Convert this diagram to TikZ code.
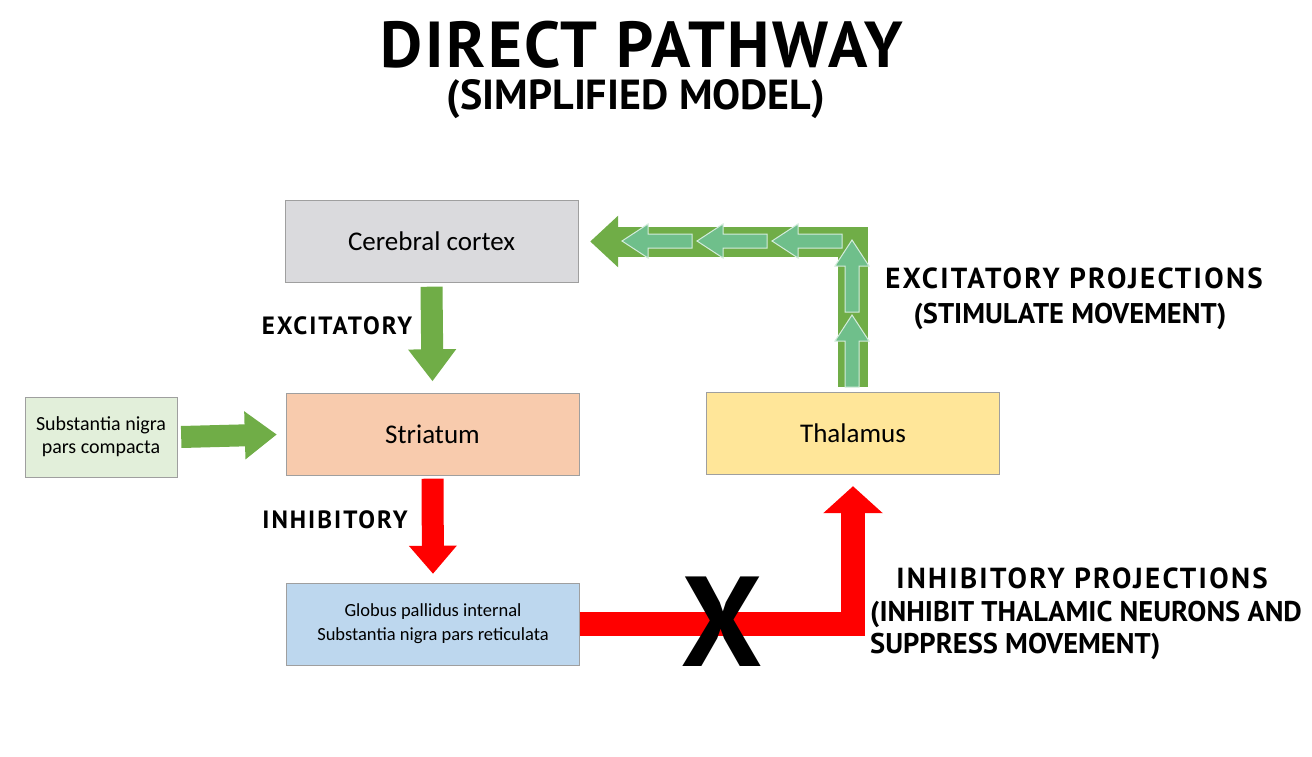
\documentclass[tikz,border=0pt]{standalone}
\usepackage{fontspec}
\setmainfont{Carlito}
\newfontfamily\handfont{PT Sans}
\newfontfamily\handwide{PT Sans}[LetterSpace=8]
\newfontfamily\titlefont{PT Sans}[LetterSpace=4]
\usepackage{tikz}
\usetikzlibrary{arrows.meta, positioning, calc}

\definecolor{cortexgray}{HTML}{DADADD}
\definecolor{striatumpeach}{HTML}{F8CBAD}
\definecolor{thalamusyellow}{HTML}{FFE699}
\definecolor{gpiblue}{HTML}{BDD7EE}
\definecolor{snpcgreen}{HTML}{E2EFDA}
\definecolor{arrowgreen}{HTML}{70AD47}
\definecolor{chevgreen}{HTML}{6FBF8B}
\definecolor{arrowred}{HTML}{FF0000}

\begin{document}
\begin{tikzpicture}[x=1pt, y=-1pt,
  box/.style={draw=gray!75, minimum width=293pt, minimum height=82pt, inner sep=2pt,
    font=\fontsize{27}{30}\selectfont},
  smallbox/.style={box, align=center, font=\fontsize{18.5}{24}\selectfont},
  lbl/.style={font=\handwide\bfseries\fontsize{25}{28}\selectfont},
  biglbl/.style={font=\handwide\bfseries\fontsize{29}{37}\selectfont},
  notelbl/.style={font=\handfont\bfseries\fontsize{28.5}{32}\selectfont},
  gfat/.style={draw=arrowgreen, line width=22pt, -{Triangle[length=32pt, width=46pt]}},
  rfat/.style={draw=arrowred, line width=22pt, -{Triangle[length=28pt, width=46pt]}},
  chev/.style={fill=chevgreen, draw=white!70!chevgreen, line width=1pt}]
\useasboundingbox[fill=white] (0,0) rectangle (1312,757);

% title
\node[font=\titlefont\bfseries\fontsize{65}{65}\selectfont, inner sep=0pt,
  text height=46pt, text depth=0pt] (title) at (642,45) {DIRECT PATHWAY};
\node[font=\handfont\bfseries\fontsize{42}{42}\selectfont, inner sep=0pt,
  text height=26pt, text depth=4pt] (subtitle) at (636,99) {(SIMPLIFIED MODEL)};

% boxes
\node[box, fill=cortexgray] (cortex) at (431.5,241.5) {Cerebral cortex};
\node[box, fill=striatumpeach] (striatum) at (432.5,434.5) {Striatum};
\node[box, fill=thalamusyellow] (thal) at (853,433) {Thalamus};
\node[smallbox, fill=gpiblue] (gpi) at (433,624) {Globus pallidus internal\\Substantia nigra pars reticulata};
\node[smallbox, fill=snpcgreen, minimum width=152pt, minimum height=80pt,
  font=\fontsize{20}{23}\selectfont] (snpc) at (101,437) {Substantia nigra\\pars compacta};

% straight arrows
\draw[gfat] ([yshift=-4pt]cortex.south) -- ([yshift=12pt]striatum.north);
\draw[gfat] ([xshift=4pt]snpc.east) -- ([xshift=-9pt]striatum.west);
\draw[rfat] ([yshift=-3pt]striatum.south) -- ([yshift=9pt]gpi.north);

% inhibitory projection
\draw[draw=arrowred, line width=24pt, -{Triangle[length=27pt, width=58pt]}]
  (gpi.east) -| ([yshift=-12pt]thal.south);
\node[font=\handfont\bfseries\fontsize{128}{128}\selectfont] (cross) at (722,622) {X};

% excitatory projection
\draw[draw=arrowgreen, line width=30pt, -{Triangle[length=28pt, width=50pt]}]
  ([yshift=5pt]thal.north) |- ([xshift=12pt]cortex.east);
\foreach \x in {622,697,772}
  \draw[chev] (\x,241) -- ++(26,-17) -- ++(0,10) -- ++(44,0) -- ++(0,14) -- ++(-44,0) -- ++(0,10) -- cycle;
\foreach \y in {240,315}
  \draw[chev] (852,\y) -- ++(17,26) -- ++(-10,0) -- ++(0,46) -- ++(-14,0) -- ++(0,-46) -- ++(-10,0) -- cycle;

% labels
\node[lbl] (exclbl) at (337,326) {EXCITATORY};
\node[lbl] (inhlbl) at (335,520) {INHIBITORY};
\node[biglbl] (excproj) at (1074,278) {EXCITATORY PROJECTIONS};
\node[notelbl] (excnote) at (1070,316) {(STIMULATE MOVEMENT)};
\node[biglbl] (inhproj) at (1082,578) {INHIBITORY PROJECTIONS};
\node[notelbl, align=left, anchor=north west, inner sep=0pt] (inhnote) at (870,601)
  {(INHIBIT THALAMIC NEURONS AND\\SUPPRESS MOVEMENT)};
\end{tikzpicture}
\end{document}
